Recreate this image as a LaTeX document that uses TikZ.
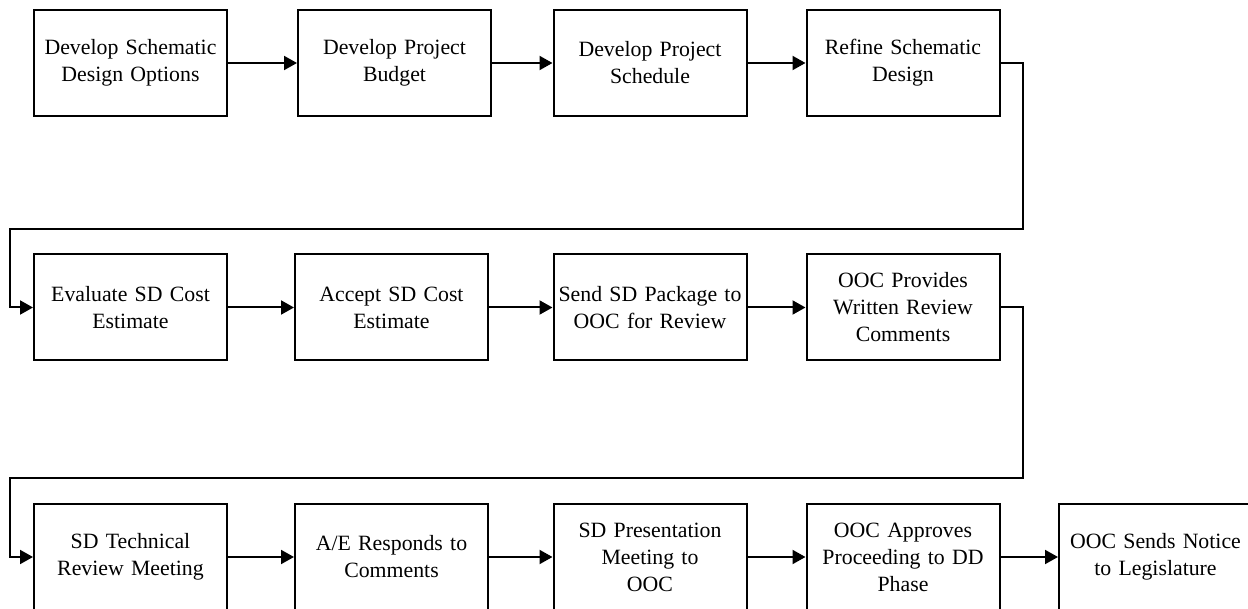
\documentclass[tikz,border=0pt]{standalone}
\usepackage{fontspec}
\setmainfont{Liberation Serif}
\usetikzlibrary{arrows.meta}
\begin{document}
\begin{tikzpicture}[x=1pt,y=-1pt,
  stepbox/.style={draw=black,line width=2pt,rectangle,minimum width=193pt,minimum height=106pt,
    inner sep=0pt,text width=188pt,align=center,font=\fontsize{21.8}{27}\selectfont},
  arr/.style={line width=2pt,-{Triangle[length=13pt,width=14pt]}}]
\useasboundingbox (0,0) rectangle (1248,609);
\fill[white] (0,0) rectangle (1248,609);
% row 1
\node[stepbox] (a1) at (130.5,63) {Develop Schematic\\Design Options};
\node[stepbox] (a2) at (394.5,63) {Develop Project\\Budget};
\node[stepbox] (a3) at (650,63) {Develop Project\\Schedule};
\node[stepbox] (a4) at (903,63) {Refine Schematic\\Design};
% row 2
\node[stepbox] (b1) at (130.5,307.5) {Evaluate SD Cost\\Estimate};
\node[stepbox] (b2) at (391.5,307.5) {Accept SD Cost\\Estimate};
\node[stepbox] (b3) at (650,307.5) {Send SD Package to\\OOC for Review};
\node[stepbox] (b4) at (903,307.5) {OOC Provides\\Written Review\\Comments};
% row 3
\node[stepbox] (c1) at (130.5,557) {SD Technical\\Review Meeting};
\node[stepbox] (c2) at (391.5,557) {A/E Responds to\\Comments};
\node[stepbox] (c3) at (650,557) {SD Presentation\\Meeting to\\OOC};
\node[stepbox] (c4) at (903,557) {OOC Approves\\Proceeding to DD\\Phase};
\node[stepbox] (c5) at (1155.5,557) {OOC Sends Notice\\to Legislature};
% connectors
\draw[arr] (a1) -- (a2);
\draw[arr] (a2) -- (a3);
\draw[arr] (a3) -- (a4);
\coordinate (t1) at (1023,229);
\coordinate (t2) at (10,229);
\draw[arr] (a4.east) -| (t1) -- (t2) |- (b1.west);
\draw[arr] (b1) -- (b2);
\draw[arr] (b2) -- (b3);
\draw[arr] (b3) -- (b4);
\coordinate (t3) at (1023,478);
\coordinate (t4) at (10,478);
\draw[arr] (b4.east) -| (t3) -- (t4) |- (c1.west);
\draw[arr] (c1) -- (c2);
\draw[arr] (c2) -- (c3);
\draw[arr] (c3) -- (c4);
\draw[arr] (c4) -- (c5);
\end{tikzpicture}
\end{document}
